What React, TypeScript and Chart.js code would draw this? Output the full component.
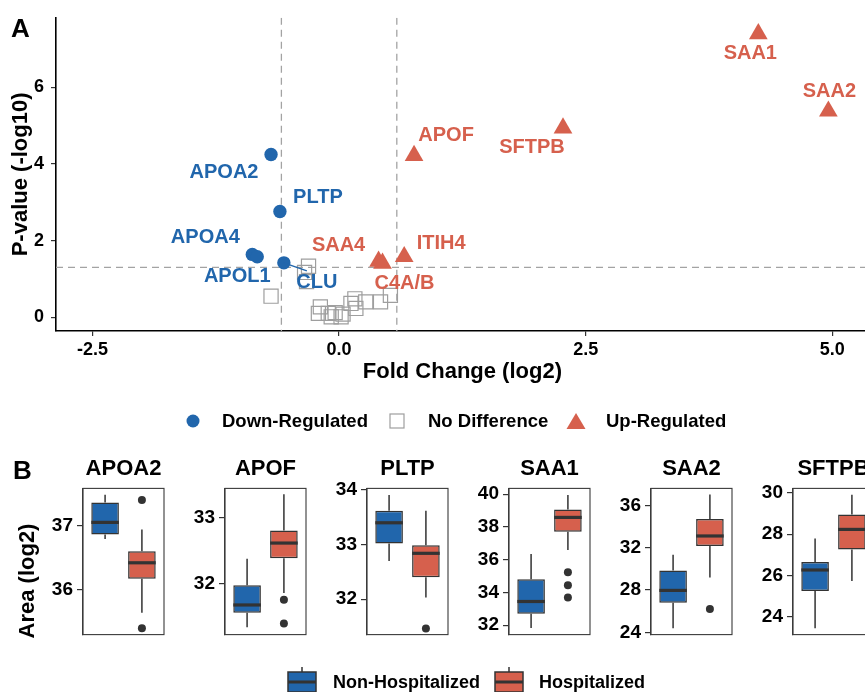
import React, { useEffect, useRef } from 'react';
import { Chart, registerables } from 'chart.js';

Chart.register(...registerables);

const FONT = '"Liberation Sans", Arial, Helvetica, sans-serif';
Chart.defaults.font.family = FONT;

const BLUE = '#2166AC';
const RED = '#D6604D';
const GREY = '#9E9E9E';
const DARK = '#333333';

// ---------- Panel A: volcano data ----------
const downNames = ['APOA2', 'PLTP', 'APOA4', 'APOL1', 'CLU'];
const downFC = [-0.69, -0.60, -0.88, -0.83, -0.56];
const downP = [4.25, 2.76, 1.64, 1.58, 1.42];

const upNames = ['APOF', 'SAA4', 'C4A/B', 'ITIH4', 'SFTPB', 'SAA1', 'SAA2'];
const upFC = [0.76, 0.40, 0.44, 0.66, 2.27, 4.25, 4.96];
const upP = [4.22, 1.46, 1.41, 1.58, 4.94, 7.40, 5.38];

const noDiffFC = [-0.69, -0.31, -0.35, -0.33, -0.19, -0.21, -0.11, -0.08, 0.02, 0.04, -0.04, 0.16, 0.17, 0.12, 0.27, 0.42, 0.52];
const noDiffP = [0.55, 1.33, 1.17, 0.93, 0.27, 0.10, 0.10, 0.01, 0.01, 0.08, 0.12, 0.48, 0.23, 0.36, 0.40, 0.40, 0.57];

const fcThreshold = 0.585;
const pThreshold = 1.301;
const volcanoXTicks = [-2.5, 0, 2.5, 5];
const volcanoYTicks = [0, 2, 4, 6];

// label placement (pixel offsets from the point, styling only)
const downLabelOffsets = [[-47, 18], [38, -14], [-47, -17], [-20, 20], [33, 20]];
const downConnectors = [null, null, null, null, [23, 8]];
const upLabelOffsets = [[32, -20], [-40, -16], [22, 20], [37, -13], [-31, 19], [-8, 20], [1, -20]];

// ---------- Panel B: boxplot data ----------
const proteins = ['APOA2', 'APOF', 'PLTP', 'SAA1', 'SAA2', 'SFTPB'];
const groups = ['Non-Hospitalized', 'Hospitalized'];

const nonHospMin = [36.79, 31.34, 32.70, 31.83, 24.38, 23.46];
const nonHospQ1 = [36.86, 31.56, 33.02, 32.70, 26.80, 25.26];
const nonHospMedian = [37.05, 31.68, 33.40, 33.45, 27.97, 26.27];
const nonHospQ3 = [37.36, 31.98, 33.62, 34.81, 29.86, 26.65];
const nonHospMax = [37.48, 32.38, 33.91, 36.35, 31.34, 27.79];
const nonHospOutliers = [[], [], [], [], [], []];

const hospMin = [35.64, 31.86, 32.03, 36.59, 29.19, 25.74];
const hospQ1 = [36.17, 32.39, 32.40, 37.70, 32.18, 27.26];
const hospMedian = [36.42, 32.62, 32.84, 38.58, 33.13, 28.23];
const hospQ3 = [36.60, 32.81, 32.99, 39.07, 34.74, 28.95];
const hospMax = [36.94, 33.36, 33.62, 39.94, 37.07, 29.90];
const hospOutliers = [[37.40, 35.40], [31.76, 31.40], [31.46], [35.23, 34.44, 33.69], [26.20], []];

const panelYMin = [35.30, 31.23, 31.35, 31.43, 23.78, 23.15];
const panelYMax = [37.58, 33.45, 34.03, 40.35, 37.64, 30.21];
const panelYTicks = [[36, 37], [32, 33], [32, 33, 34], [32, 34, 36, 38, 40], [24, 28, 32, 36], [24, 26, 28, 30]];

// layout constants
const PANEL_LEFTS = [83, 225, 367, 509, 651, 793];
const PANEL_W = 81;
const YAXIS_W = 70;

const volcanoPlugin = {
  id: 'volcanoDecor',
  beforeDatasetsDraw(chart: any) {
    const { ctx, chartArea: a, scales } = chart;
    const x = scales.x, y = scales.y;
    ctx.save();
    ctx.beginPath();
    ctx.rect(a.left, a.top, a.right - a.left, a.bottom - a.top);
    ctx.clip();
    ctx.strokeStyle = '#A3A3A3';
    ctx.lineWidth = 1.3;
    ctx.setLineDash([7, 5]);
    [-fcThreshold, fcThreshold].forEach((v) => {
      const px = x.getPixelForValue(v);
      ctx.beginPath();
      ctx.moveTo(px, a.top);
      ctx.lineTo(px, a.bottom);
      ctx.stroke();
    });
    const py = y.getPixelForValue(pThreshold);
    ctx.beginPath();
    ctx.moveTo(a.left, py);
    ctx.lineTo(a.right, py);
    ctx.stroke();
    ctx.restore();
  },
  afterDatasetsDraw(chart: any) {
    const { ctx, scales } = chart;
    const x = scales.x, y = scales.y;
    ctx.save();
    ctx.font = `bold 20px ${FONT}`;
    ctx.textAlign = 'center';
    ctx.textBaseline = 'middle';
    downNames.forEach((name, i) => {
      const px = x.getPixelForValue(downFC[i]);
      const py = y.getPixelForValue(downP[i]);
      const c = downConnectors[i];
      if (c) {
        ctx.strokeStyle = BLUE;
        ctx.lineWidth = 1.5;
        ctx.beginPath();
        ctx.moveTo(px, py);
        ctx.lineTo(px + c[0], py + c[1]);
        ctx.stroke();
      }
      ctx.fillStyle = BLUE;
      ctx.fillText(name, px + downLabelOffsets[i][0], py + downLabelOffsets[i][1]);
    });
    upNames.forEach((name, i) => {
      const px = x.getPixelForValue(upFC[i]);
      const py = y.getPixelForValue(upP[i]);
      ctx.fillStyle = RED;
      ctx.fillText(name, px + upLabelOffsets[i][0], py + upLabelOffsets[i][1]);
    });
    ctx.restore();
  },
};

function Volcano() {
  const ref = useRef<HTMLCanvasElement>(null);
  useEffect(() => {
    const toPts = (xs: number[], ys: number[]) => xs.map((v, i) => ({ x: v, y: ys[i] }));
    const tickFont = { size: 18, weight: 'bold' as const, family: FONT };
    const chart = new Chart(ref.current as HTMLCanvasElement, {
      type: 'scatter',
      data: {
        datasets: [
          { label: 'Down-Regulated', data: toPts(downFC, downP), pointStyle: 'circle', pointRadius: 6.7, backgroundColor: BLUE, borderColor: BLUE, borderWidth: 0 },
          { label: 'Up-Regulated', data: toPts(upFC, upP), pointStyle: 'triangle', pointRadius: 10.8, backgroundColor: RED, borderColor: RED, borderWidth: 0 },
          { label: 'No Difference', data: toPts(noDiffFC, noDiffP), pointStyle: 'rect', pointRadius: 10, backgroundColor: 'rgba(255,255,255,0)', borderColor: GREY, borderWidth: 1.2 },
        ],
      } as any,
      options: {
        animation: false,
        responsive: false,
        layout: { padding: { left: 8, top: 16, right: 5, bottom: 4 } },
        plugins: { legend: { display: false }, tooltip: { enabled: false } },
        scales: {
          x: {
            type: 'linear',
            min: -2.87,
            max: 5.37,
            afterBuildTicks: (s: any) => { s.ticks = volcanoXTicks.map((v) => ({ value: v })); },
            afterFit: (s: any) => { s.height = 60; },
            ticks: { callback: (v: any) => Number(v).toFixed(1), font: tickFont, color: '#000', padding: 3, maxRotation: 0 },
            grid: { drawOnChartArea: false, tickLength: 5, color: DARK, lineWidth: 1.2 },
            border: { display: true, color: '#000', width: 1.6 },
            title: { display: true, text: 'Fold Change (log2)', font: { size: 22, weight: 'bold', family: FONT }, color: '#000', padding: { top: 0, bottom: 6 } },
          },
          y: {
            type: 'linear',
            min: -0.36,
            max: 7.82,
            afterBuildTicks: (s: any) => { s.ticks = volcanoYTicks.map((v) => ({ value: v })); },
            afterFit: (s: any) => { s.width = 48; },
            ticks: { callback: (v: any) => String(v), font: tickFont, color: '#000', padding: 7 },
            grid: { drawOnChartArea: false, tickLength: 5, color: DARK, lineWidth: 1.2 },
            border: { display: true, color: '#000', width: 1.6 },
            title: { display: true, text: 'P-value (-log10)', font: { size: 22, weight: 'bold', family: FONT }, color: '#000', padding: { top: 0, bottom: 0 } },
          },
        },
      } as any,
      plugins: [volcanoPlugin],
    });
    return () => chart.destroy();
  }, []);
  return <canvas ref={ref} width={880} height={395} style={{ position: 'absolute', left: 0, top: 0 }} />;
}

function BoxPanel({ idx }: { idx: number }) {
  const ref = useRef<HTMLCanvasElement>(null);
  useEffect(() => {
    const stats = [
      { min: nonHospMin[idx], q1: nonHospQ1[idx], med: nonHospMedian[idx], q3: nonHospQ3[idx], max: nonHospMax[idx] },
      { min: hospMin[idx], q1: hospQ1[idx], med: hospMedian[idx], q3: hospQ3[idx], max: hospMax[idx] },
    ];
    const boxDecor = {
      id: 'boxDecor',
      afterDatasetsDraw(chart: any) {
        const { ctx, chartArea: a, scales } = chart;
        const x = scales.x, y = scales.y;
        const meta = chart.getDatasetMeta(0);
        ctx.save();
        ctx.strokeStyle = DARK;
        stats.forEach((s, i) => {
          const bar: any = meta.data[i];
          const cx = x.getPixelForValue(i + 1);
          const hw = bar.width / 2;
          ctx.lineWidth = 1.5;
          ctx.beginPath();
          ctx.moveTo(cx, y.getPixelForValue(s.q3));
          ctx.lineTo(cx, y.getPixelForValue(s.max));
          ctx.moveTo(cx, y.getPixelForValue(s.q1));
          ctx.lineTo(cx, y.getPixelForValue(s.min));
          ctx.stroke();
          ctx.lineWidth = 3.2;
          const my = y.getPixelForValue(s.med);
          ctx.beginPath();
          ctx.moveTo(cx - hw, my);
          ctx.lineTo(cx + hw, my);
          ctx.stroke();
        });
        ctx.lineWidth = 1.1;
        ctx.strokeStyle = '#3a3a3a';
        ctx.strokeRect(a.left, a.top, a.right - a.left, a.bottom - a.top);
        ctx.restore();
      },
    };
    const outlierPts = [
      ...nonHospOutliers[idx].map((v) => ({ x: 1, y: v })),
      ...hospOutliers[idx].map((v) => ({ x: 2, y: v })),
    ];
    const chart = new Chart(ref.current as HTMLCanvasElement, {
      type: 'bar',
      data: {
        datasets: [
          {
            type: 'bar',
            label: 'IQR',
            data: [
              { x: 1, y: [stats[0].q1, stats[0].q3] },
              { x: 2, y: [stats[1].q1, stats[1].q3] },
            ],
            backgroundColor: [BLUE, RED],
            borderColor: DARK,
            borderWidth: 1.5,
            borderSkipped: false,
            categoryPercentage: 1,
            barPercentage: 0.75,
          },
          {
            type: 'scatter',
            label: 'Outliers',
            data: outlierPts,
            pointRadius: 4,
            pointStyle: 'circle',
            backgroundColor: DARK,
            borderWidth: 0,
          },
        ],
      } as any,
      options: {
        animation: false,
        responsive: false,
        layout: { padding: { left: 0, top: 0, right: 6, bottom: 15 } },
        plugins: {
          legend: { display: false },
          tooltip: { enabled: false },
          title: {
            display: true,
            text: proteins[idx],
            fullSize: false,
            font: { size: 22, weight: 'bold', family: FONT },
            color: '#000',
            padding: { top: 16, bottom: 6 },
          },
        },
        scales: {
          x: { type: 'linear', min: 0.4, max: 2.6, offset: false, display: false, grid: { offset: false } },
          y: {
            type: 'linear',
            min: panelYMin[idx],
            max: panelYMax[idx],
            beginAtZero: false,
            afterBuildTicks: (s: any) => { s.ticks = panelYTicks[idx].map((v) => ({ value: v })); },
            afterFit: (s: any) => { s.width = YAXIS_W; },
            ticks: { callback: (v: any) => String(v), font: { size: 19, weight: 'bold', family: FONT }, color: '#000', padding: 4 },
            grid: { drawOnChartArea: false, tickLength: 6, color: DARK, lineWidth: 1.2 },
            border: { display: true, color: '#3a3a3a', width: 1.1 },
          },
        },
      } as any,
      plugins: [boxDecor],
    });
    return () => chart.destroy();
  }, [idx]);
  return (
    <canvas
      ref={ref}
      width={YAXIS_W + PANEL_W + 6}
      height={210}
      style={{ position: 'absolute', left: PANEL_LEFTS[idx] - YAXIS_W, top: 440 }}
    />
  );
}

const textBase: React.CSSProperties = { position: 'absolute', fontFamily: FONT, fontWeight: 'bold', color: '#000', whiteSpace: 'nowrap' };

function BoxIcon({ fill }: { fill: string }) {
  return (
    <svg width={30} height={30} style={{ display: 'block' }}>
      <line x1={15} y1={0} x2={15} y2={5} stroke={DARK} strokeWidth={1.5} />
      <rect x={1} y={5} width={28} height={20} fill={fill} stroke={DARK} strokeWidth={1.5} />
      <line x1={1} y1={15} x2={29} y2={15} stroke={DARK} strokeWidth={3} />
      <line x1={15} y1={25} x2={15} y2={30} stroke={DARK} strokeWidth={1.5} />
    </svg>
  );
}

export default function App() {
  const legendA = 421;
  const legendB = 682;
  return (
    <div style={{ position: 'fixed', left: 0, top: 0, width: 865, height: 692, overflow: 'hidden', background: '#fff' }}>
      <Volcano />
      {proteins.map((p, i) => <BoxPanel key={p} idx={i} />)}

      <div style={{ ...textBase, fontSize: 26, lineHeight: '26px', left: 11, top: 15 }}>A</div>
      <div style={{ ...textBase, fontSize: 26, lineHeight: '26px', left: 13, top: 457 }}>B</div>

      <div style={{ ...textBase, fontSize: 22, lineHeight: '26px', width: 200, textAlign: 'center', left: 26.5 - 100, top: 580.8 - 13, transform: 'rotate(-90deg)', transformOrigin: '50% 50%' }}>Area (log2)</div>

      {/* Panel A legend */}
      <svg width={14} height={14} style={{ position: 'absolute', left: 193 - 7, top: legendA - 7 }}>
        <circle cx={7} cy={7} r={6.5} fill={BLUE} />
      </svg>
      <div style={{ ...textBase, fontSize: 18.5, lineHeight: '22px', left: 222, top: legendA - 10.8 }}>Down-Regulated</div>
      <svg width={16} height={16} style={{ position: 'absolute', left: 397 - 8, top: legendA - 8 }}>
        <rect x={1} y={1} width={14} height={14} fill="none" stroke={GREY} strokeWidth={1.2} />
      </svg>
      <div style={{ ...textBase, fontSize: 18.5, lineHeight: '22px', left: 428, top: legendA - 10.8 }}>No Difference</div>
      <svg width={20} height={18} style={{ position: 'absolute', left: 576 - 10, top: legendA - 9 }}>
        <polygon points="10,1 19.5,17 0.5,17" fill={RED} />
      </svg>
      <div style={{ ...textBase, fontSize: 18.5, lineHeight: '22px', left: 606, top: legendA - 10.8 }}>Up-Regulated</div>

      {/* Panel B legend */}
      <div style={{ position: 'absolute', left: 287, top: legendB - 15 }}><BoxIcon fill={BLUE} /></div>
      <div style={{ ...textBase, fontSize: 18, lineHeight: '21px', left: 333, top: legendB - 10.3 }}>{groups[0]}</div>
      <div style={{ position: 'absolute', left: 494, top: legendB - 15 }}><BoxIcon fill={RED} /></div>
      <div style={{ ...textBase, fontSize: 18, lineHeight: '21px', left: 539, top: legendB - 10.3 }}>{groups[1]}</div>
    </div>
  );
}
